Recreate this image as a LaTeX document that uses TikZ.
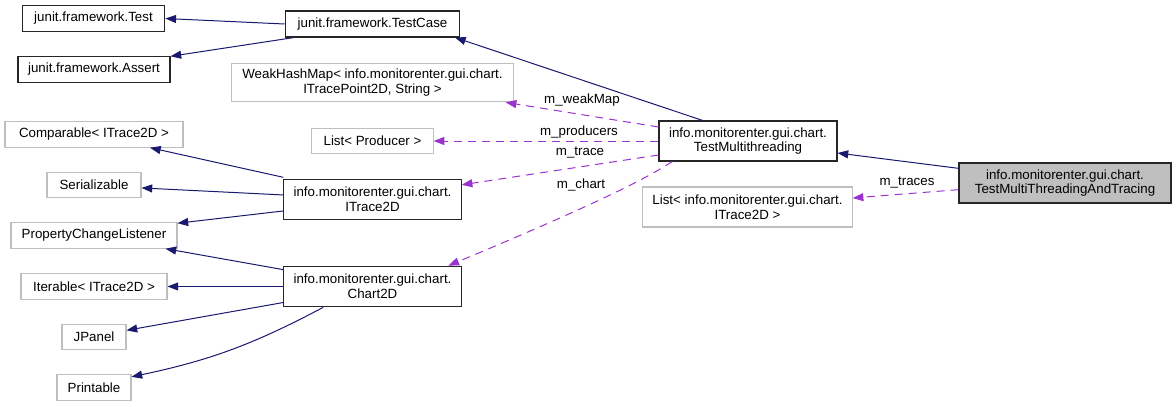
\documentclass[tikz,border=0pt]{standalone}
\usepackage{fontspec}
\setmainfont{Liberation Sans}
\usetikzlibrary{arrows.meta, calc}
\definecolor{navy}{HTML}{191970}
\definecolor{orchid}{HTML}{9A32CD}
\definecolor{frame}{HTML}{BFBFBF}

\begin{document}
\begin{tikzpicture}[x=0.75pt, y=-0.75pt,
  every node/.style={font=\fontsize{10}{11}\selectfont, inner sep=0pt, align=center},
  cls/.style={draw=black!85, line width=0.8pt, minimum height=19.5pt},
  ext/.style={draw=frame, line width=0.8pt, minimum height=19pt},
  cur/.style={cls, fill=frame},
  inh/.style={navy, line width=0.75pt, -{Triangle[length=8pt, width=6pt]}},
  use/.style={orchid, line width=0.75pt, dash pattern=on 6pt off 4.5pt, -{Triangle[length=8pt, width=6pt]}}]
  \useasboundingbox (0,0) rectangle (1176,407);

  % junit
  \node[cls, minimum width=107pt, minimum height=20pt] (test) at (93.5,18.5) {junit.framework.Test};
  \node[cls, minimum width=114pt, minimum height=19pt] (assert) at (94,69.5) {junit.framework.Assert};
  \node[cls, minimum width=131pt] (testcase) at (372.5,24) {junit.framework.TestCase};

  % members of TestMultithreading
  \node[ext, minimum width=211pt, minimum height=29pt] (weakmap) at (372.5,82.5) {WeakHashMap< info.monitorenter.gui.chart.\\ITracePoint2D, String >};
  \node[ext, minimum width=91pt] (producers) at (372.5,141) {List< Producer >};
  \node[cls, minimum width=133pt, minimum height=30.5pt] (itrace) at (372.5,199.5) {info.monitorenter.gui.chart.\\ITrace2D};
  \node[cls, minimum width=133pt, minimum height=30.5pt] (chart) at (372.5,286.5) {info.monitorenter.gui.chart.\\Chart2D};

  % interfaces and bases
  \node[ext, minimum width=133.5pt] (comparable) at (94,134.5) {Comparable< ITrace2D >};
  \node[ext, minimum width=70.5pt] (serial) at (94,185) {Serializable};
  \node[ext, minimum width=124.5pt] (pcl) at (94,235.5) {PropertyChangeListener};
  \node[ext, minimum width=109.5pt] (iterable) at (94,286.5) {Iterable< ITrace2D >};
  \node[ext, minimum width=48pt] (jpanel) at (94,337) {JPanel};
  \node[ext, minimum width=55.5pt] (printable) at (94,387.5) {Printable};

  % right side
  \node[cls, minimum width=133.5pt, minimum height=30pt] (tm) at (748,141) {info.monitorenter.gui.chart.\\TestMultithreading};
  \node[ext, minimum width=157pt, minimum height=30pt] (traces) at (747.5,207) {List< info.monitorenter.gui.chart.\\ITrace2D >};
  \node[cur, minimum width=159pt, minimum height=30pt] (tmat) at (1065,183) {info.monitorenter.gui.chart.\\TestMultiThreadingAndTracing};

  % inheritance
  \draw[inh] (testcase.west) -- (test.east);
  \draw[inh] ([xshift=7pt]testcase.south west) -- (assert.north east);
  \draw[inh] ([xshift=-34pt]tm.north) -- ([xshift=-4pt]testcase.south east);
  \draw[inh] ([yshift=11pt]tmat.west) -- ([yshift=-9pt]tm.east);
  \draw[inh] ([yshift=1pt]itrace.north west) -- ([xshift=42pt]comparable.south);
  \draw[inh] ([yshift=3.4pt]itrace.west) -- ([yshift=-2.2pt]serial.east);
  \draw[inh] ([yshift=-8.6pt]itrace.west) -- ([yshift=-0.7pt]pcl.north east);
  \draw[inh] ([yshift=-3pt]chart.north west) -- ([xshift=-9pt]pcl.south east);
  \draw[inh] (chart.west) -- (iterable.east);
  \draw[inh] ([yshift=-12pt]chart.west) -- ([yshift=5pt]jpanel.east);
  \draw[inh] ([xshift=-37pt]chart.south) to[bend left=8] ([yshift=8pt]printable.east);

  % usage
  \draw[use] ([yshift=10.5pt]tm.west) -- ([xshift=-6pt]weakmap.south east);
  \draw[use] (tm.west) -- (producers.east);
  \draw[use] ([yshift=-10.5pt]tm.west) -- ([yshift=11pt]itrace.east);
  \draw[use] ([xshift=10.5pt]tm.south west) .. controls (655,172) and (630,190) .. ([xshift=-10pt]chart.north east);
  \draw[use] ([yshift=-5pt]tmat.west) -- ([yshift=6.75pt]traces.east);

  \node (lweak) at (582,100) {m\_weakMap};
  \node (lprod) at (579,132) {m\_producers};
  \node (ltrace) at (580,153) {m\_trace};
  \node (lchart) at (581,185) {m\_chart};
  \node (ltraces) at (907,183) {m\_traces};
\end{tikzpicture}
\end{document}
